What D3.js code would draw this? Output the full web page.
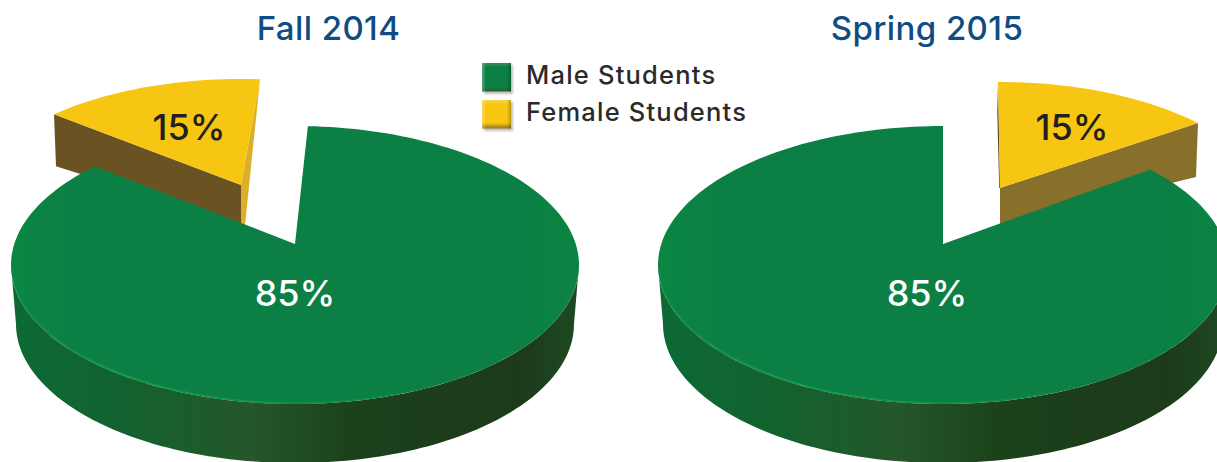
<!DOCTYPE html>
<html><head><meta charset="utf-8">
<script src="https://cdn.jsdelivr.net/npm/d3@7"></script>
<style>html,body{margin:0;padding:0;background:#fff;overflow:hidden}svg{display:block}text{font-family:Inter,"Open Sans",sans-serif}</style>
</head><body><svg id="c" width="1217" height="462"></svg>
<script>
const categories = ["Male Students", "Female Students"];
const terms = ["Fall 2014", "Spring 2015"];
const fall2014 = [85, 15];
const spring2015 = [85, 15];
const tops = ["#0c7f44", "#f7c612"];

// drawing geometry, degrees clockwise from the top of each ellipse
const layouts = [
  {title:328.5, values:fall2014,
   male:{cx:295,cy:265,rx:284,ry:139,ax:295,ay:244,from:2.6,to:315.2,lx:295,ly:306},
   female:{cx:241,cy:217,rx:280,ry:138,ax:241,ay:185,from:-41.9,to:3.9,depth:40,lx:189,ly:140,wall:"#6b5222",sideFill:"#dcae2a"}},
  {title:927, values:spring2015,
   male:{cx:943,cy:265,rx:285,ry:139,ax:943,ay:244,from:46.6,to:360,lx:927,ly:306},
   female:{cx:1000,cy:222,rx:280,ry:140,ax:1000,ay:188,from:-0.4,to:45,depth:37,lx:1072,ly:140,wall:"#88702a"}}
];
const wallDepth = 59, wallShrink = 5;

const svg = d3.select("#c");
const defs = svg.append("defs");
function grad(id, stops, vertical){
  const g = defs.append("linearGradient").attr("id",id).attr("x1",0).attr("y1",0)
    .attr("x2",vertical?0:1).attr("y2",vertical?1:0);
  g.selectAll("stop").data(stops).join("stop")
    .attr("offset",d=>d[0]).attr("stop-color",d=>d[1]).attr("stop-opacity",d=>d[2]===undefined?1:d[2]);
}
grad("wall",[[0,"#0d6a35"],[.2,"#12622e"],[.42,"#25572a"],[.6,"#1b421a"],[.75,"#1c3d1a"],[.9,"#1c3b1a"],[1,"#1e4a22"]]);
grad("face",[[0,"#0a8642"],[.1,"#0c8044"],[.9,"#0c7f44"],[1,"#0b8442"]]);
grad("rim",[[0,"#109a4a",.2],[.25,"#109a4a",1],[.7,"#109a4a",.7],[1,"#109a4a",0]]);
grad("sw0",[[0,"#3d8a55"],[.15,"#0c7f44"],[.85,"#0c7f44"],[1,"#2f5a2a"]],true);
grad("sw1",[[0,"#f9d548"],[.15,"#f7c612"],[.8,"#f7c612"],[1,"#94761a"]],true);
grad("bevel",[[0,"#fff",.3],[.14,"#fff",0],[.86,"#000",0],[1,"#000",.25]]);
defs.append("filter").attr("id","soft").append("feGaussianBlur").attr("stdDeviation",1.3);

const line = d3.line();
const rad = d3.scaleLinear().domain([0,360]).range([0,2*Math.PI]);
const pt = (e,deg,dy=0,shrink=0)=>[
  e.cx+(e.rx-shrink)*Math.sin(rad(deg)),
  e.cy+dy-e.ry*Math.cos(rad(deg))
];
function sweep(a,b){const n=Math.ceil(Math.abs(b-a)/1.5);return d3.range(n+1).map(i=>a+(b-a)*i/n);}

const pie = d3.pie().sort(null);
layouts.forEach((L,k)=>{
  const [maleArc,femaleArc] = pie(L.values);
  // pie slices are mapped on to the screen arcs of the two exploded pieces
  const mMap = d3.scaleLinear().domain([maleArc.startAngle,maleArc.endAngle]).range([L.male.from,L.male.to]);
  const fMap = d3.scaleLinear().domain([femaleArc.startAngle,femaleArc.endAngle]).range([L.female.from,L.female.to]);
  const m=L.male, f=L.female;
  const mA=mMap(maleArc.startAngle), mB=mMap(maleArc.endAngle);
  const fA=fMap(femaleArc.startAngle), fB=fMap(femaleArc.endAngle);
  const g = svg.append("g");

  // female wedge
  const fa=pt(f,fA), fb=pt(f,fB);
  if(k===0){
    g.append("path").attr("fill",f.sideFill)
     .attr("d",line([fb,[f.ax,f.ay],[f.ax,f.ay+f.depth],[f.ax+4,f.ay+f.depth]])+"Z");
    g.append("path").attr("fill",f.wall)
     .attr("d",line([fa,[f.ax,f.ay],[f.ax,f.ay+f.depth],[fa[0]+2,fa[1]+52]])+"Z");
  } else {
    g.append("path").attr("fill","#5f4a1c")
     .attr("d",line([fa,[fa[0]-0.8,fa[1]+30],[f.ax-0.8,f.ay],[f.ax,f.ay]])+"Z");
    g.append("path").attr("fill",f.wall)
     .attr("d",line([fb,[f.ax,f.ay],[f.ax,f.ay+f.depth],[fb[0]-2,fb[1]+54]])+"Z");
  }
  g.append("path").attr("fill",tops[1])
   .attr("d",line([[f.ax,f.ay],...sweep(fA,fB).map(t=>pt(f,t))])+"Z");

  // male wall, front half
  const front=sweep(90,270);
  g.append("path").attr("fill","url(#wall)")
   .attr("d",line([...front.map(t=>pt(m,t)),...front.slice().reverse().map(t=>pt(m,t,wallDepth,wallShrink))])+"Z");
  // male top face
  g.append("path").attr("fill","url(#face)")
   .attr("d",line([[m.ax,m.ay],...sweep(mA,mB).map(t=>pt(m,t))])+"Z");
  // lit rim
  g.append("path").attr("fill","none").attr("stroke","url(#rim)").attr("stroke-width",1.6)
   .attr("d",line(sweep(150,268).map(t=>pt(m,t,-1,1))));

  // value labels
  g.append("text").attr("x",m.lx).attr("y",m.ly).attr("text-anchor","middle")
   .attr("font-size",36).attr("font-weight",500).attr("fill","#fff").text(L.values[0]+"%");
  g.append("text").attr("x",f.lx).attr("y",f.ly).attr("text-anchor","middle")
   .attr("font-size",36).attr("font-weight",500).attr("fill","#231f20").text(L.values[1]+"%");

  // title
  svg.append("text").attr("x",L.title).attr("y",40).attr("text-anchor","middle")
   .attr("font-size",33).attr("font-weight",500).attr("letter-spacing",.4).attr("fill","#0e4c83").text(terms[k]);
});

// legend
const ly = d3.scaleBand().domain(categories).range([63,137]).padding(0);
const leg = svg.selectAll("g.leg").data(categories).join("g").attr("class","leg")
  .attr("transform",d=>`translate(482,${ly(d)})`);
leg.append("rect").attr("x",2).attr("y",2).attr("width",29).attr("height",29).attr("fill","#999").attr("opacity",.6).attr("filter","url(#soft)");
leg.append("rect").attr("width",29).attr("height",28.5).attr("fill",(d,i)=>`url(#sw${i})`);
leg.append("rect").attr("width",29).attr("height",28.5).attr("fill","url(#bevel)");
leg.append("text").attr("x",44).attr("y",21).attr("font-size",25.5).attr("font-weight",500).attr("letter-spacing",1.2).attr("fill","#2b2a2b").text(d=>d);
</script></body></html>
